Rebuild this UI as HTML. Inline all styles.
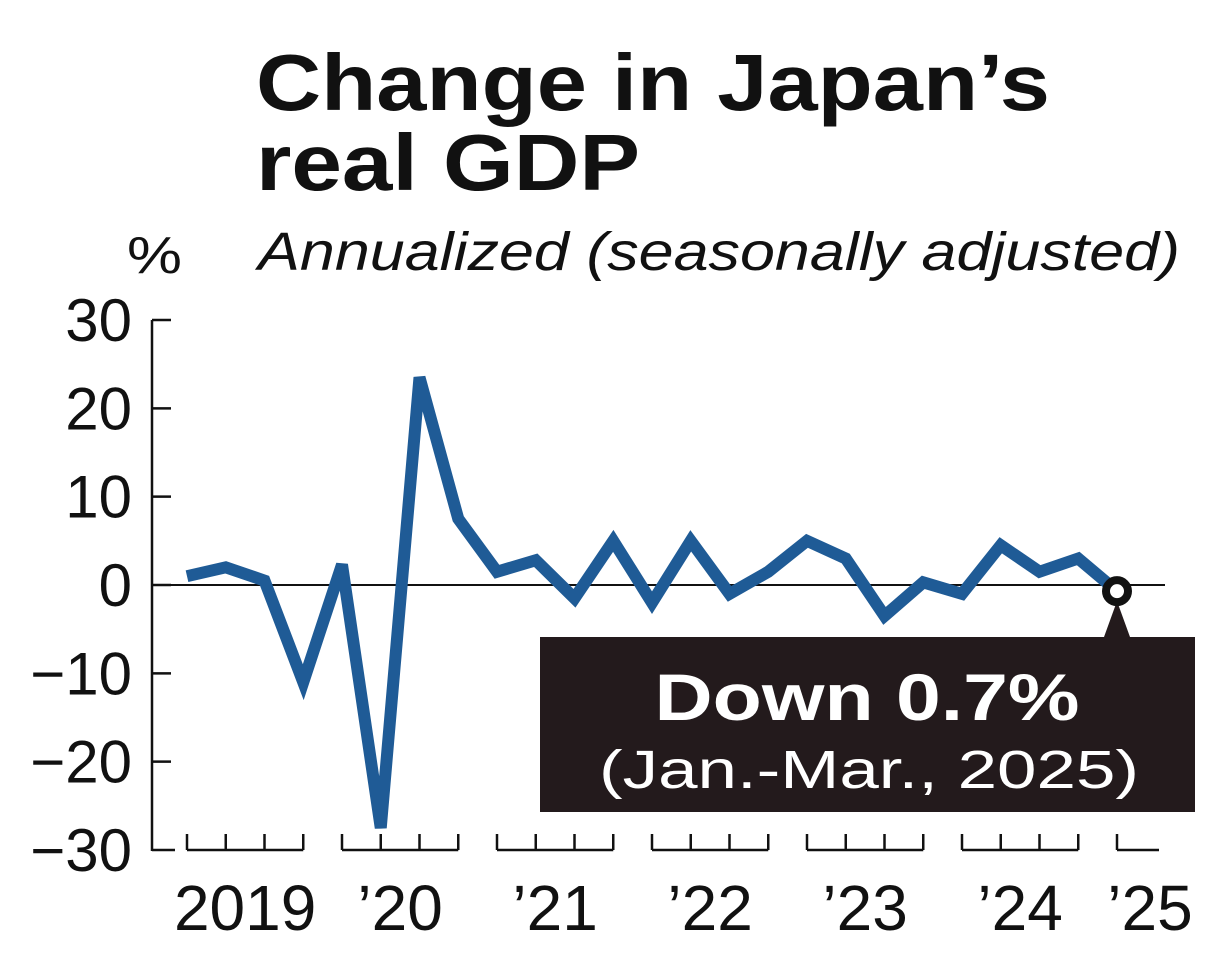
<!DOCTYPE html>
<html><head><meta charset="utf-8"><style>
body{margin:0;background:#fff;}
svg text{font-family:"Liberation Sans",Arial,sans-serif;}
</style></head><body>
<svg id="chart" width="1206" height="956" viewBox="0 0 1206 956" xmlns="http://www.w3.org/2000/svg">
<text x="256" y="110" font-size="80" font-weight="bold" fill="#111" textLength="794" lengthAdjust="spacingAndGlyphs">Change in Japan’s</text>
<text x="256" y="190" font-size="80" font-weight="bold" fill="#111" textLength="384" lengthAdjust="spacingAndGlyphs">real GDP</text>
<text x="258" y="270" font-size="54" font-style="italic" fill="#111" textLength="922" lengthAdjust="spacingAndGlyphs">Annualized (seasonally adjusted)</text>
<text x="127" y="273" font-size="52" fill="#111" textLength="55" lengthAdjust="spacingAndGlyphs">%</text>
<g id="axes"></g>
<g id="series"></g>
<g id="callout"></g>
</svg>
<script>
const years = ["2019","’20","’21","’22","’23","’24","’25"];
const yTicks = [30,20,10,0,-10,-20,-30];
const yTickLabels = ["30","20","10","0","−10","−20","−30"];
const gdpValues = [1,2,0.5,-11,2.3,-27.5,23.5,7.5,1.5,2.8,-1.5,5,-2,5,-1,1.5,5,3,-3.5,0.3,-1,4.5,1.5,3,-0.7];
const latestLabel = "Down 0.7%";
const latestPeriod = "(Jan.-Mar., 2025)";

const NS="http://www.w3.org/2000/svg";
const y0=320,y1=850,vmax=30,vmin=-30;
const yScale=v=>y0+(vmax-v)/(vmax-vmin)*(y1-y0);
const x0=187,step=38.75;
const xScale=i=>x0+i*step;
function mk(tag,attrs,parent){const e=document.createElementNS(NS,tag);for(const k in attrs)e.setAttribute(k,attrs[k]);parent.appendChild(e);return e;}
const axes=document.getElementById('axes');
let yl=mk('line',{x1:152,y1:yScale(vmax),x2:152,y2:yScale(vmin)+1,stroke:'#111','stroke-width':2.5},axes);


yTicks.forEach((t,i)=>{
  const y=yScale(t);
  const tk=mk('line',{x1:152,y1:y,x2:t===vmin?175:171,y2:y,stroke:'#111','stroke-width':2.5},axes);
  
  
  const tx=mk('text',{x:132,y:y+21,'font-size':60,'text-anchor':'end',fill:'#111'},axes);
  tx.textContent=yTickLabels[i];
  
  
});
let zl=mk('line',{x1:152,y1:yScale(0),x2:1165,y2:yScale(0),stroke:'#111','stroke-width':2},axes);


years.forEach((yr,g)=>{
  const q0=g*4;
  const n=Math.min(4,gdpValues.length-q0);
  const xa=xScale(q0), xb=n===4?xScale(q0+3):xScale(q0)+42;
  const grp=mk('g',{},axes);
  
  
  mk('line',{x1:xa,y1:850,x2:xb,y2:850,stroke:'#111','stroke-width':2.5},grp);
  for(let q=0;q<n;q++){mk('line',{x1:xScale(q0+q),y1:850,x2:xScale(q0+q),y2:834,stroke:'#111','stroke-width':2.5},grp);}
  if(n===4) mk('line',{x1:xb,y1:850,x2:xb,y2:834,stroke:'#111','stroke-width':2.5},grp);
  const cx=(xScale(q0)+xScale(q0+3))/2;
  const tx=mk('text',{x:g===6?1150:cx,y:930,'font-size':64,'text-anchor':'middle',fill:'#111'},axes);
  tx.textContent=yr;
  
  
});
const series=document.getElementById('series');
const pts=gdpValues.map((v,i)=>xScale(i)+','+yScale(v)).join(' ');
const pl=mk('polyline',{points:pts,fill:'none',stroke:'#1f5b96','stroke-width':12,'stroke-linejoin':'miter','stroke-miterlimit':3},series);


const co=document.getElementById('callout');
const li=gdpValues.length-1, lx=xScale(li), ly=yScale(gdpValues[li]);
const tri=mk('polygon',{points:`${lx},${ly+10} ${lx-13},${637} ${lx+13},${637}`,fill:'#231a1c'},co);


const box=mk('rect',{x:540,y:637,width:655,height:175,fill:'#231a1c'},co);


const mark=mk('circle',{cx:lx,cy:ly,r:11,fill:'#fff',stroke:'#111','stroke-width':8},co);


const t1=mk('text',{x:867,y:720,'font-size':66,'font-weight':'bold','text-anchor':'middle',fill:'#fff',textLength:425,lengthAdjust:'spacingAndGlyphs'},co);
t1.textContent=latestLabel;


const t2=mk('text',{x:869,y:788,'font-size':54,'text-anchor':'middle',fill:'#fff',textLength:540,lengthAdjust:'spacingAndGlyphs'},co);
t2.textContent=latestPeriod;


</script>
</body></html>
